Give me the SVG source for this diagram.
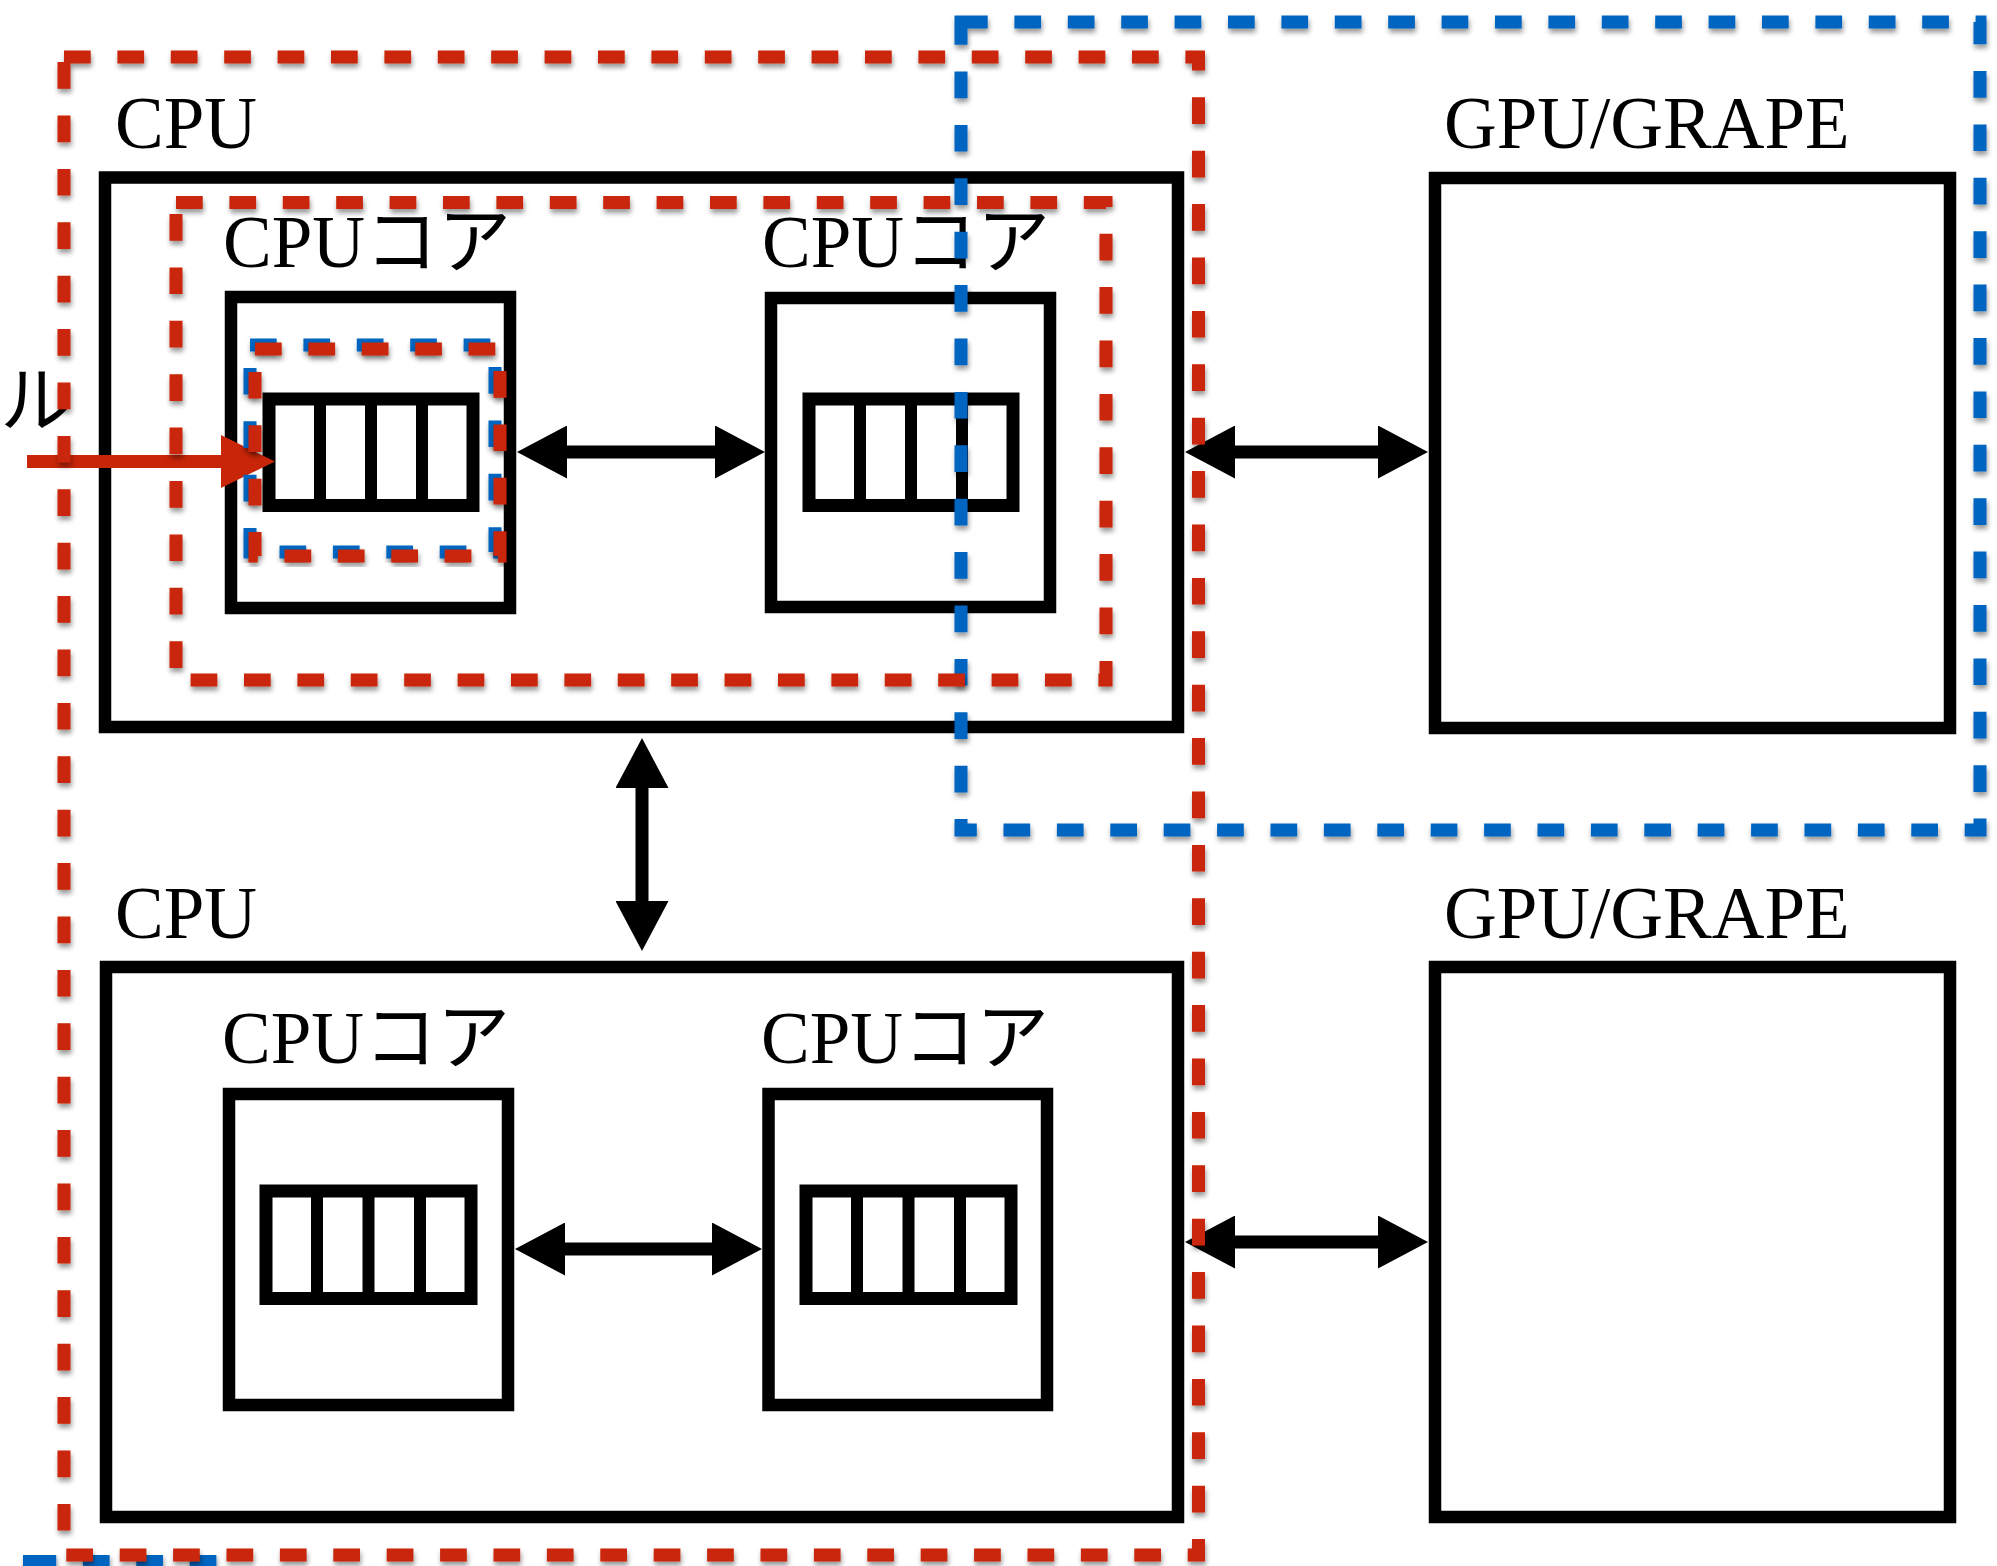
<svg xmlns="http://www.w3.org/2000/svg" width="1997" height="1566" viewBox="0 0 1997 1566">
<style>
  .box { fill: none; stroke: #000; stroke-width: 12.5; }
  .reg { fill: #fff; stroke: #000; stroke-width: 13; }
  .div { stroke: #000; stroke-width: 12; }
  .lbl { font-family: "Liberation Serif", "Noto Sans CJK JP", serif; font-size: 73px; fill: #000; }
  .red { fill: none; stroke: #C92508; stroke-width: 13; stroke-dasharray: 26.7 26.7; filter: url(#sh); }
  .blue { fill: none; stroke: #0565C0; stroke-width: 13; stroke-dasharray: 26.7 26.7; filter: url(#sh); }
  .conn { stroke: #000; stroke-width: 13; fill: none; marker-start: url(#ah); marker-end: url(#ah); }
</style>
<defs>
  <filter id="sh" x="-5%" y="-5%" width="110%" height="110%">
    <feDropShadow dx="1" dy="4" stdDeviation="2.5" flood-color="#000" flood-opacity="0.4"/>
  </filter>
  <marker id="ah" viewBox="0 0 50 53" markerWidth="50" markerHeight="53" refX="1" refY="26.5" markerUnits="userSpaceOnUse" orient="auto-start-reverse">
    <path d="M0,0 L50,26.5 L0,53 Z" fill="#000"/>
  </marker>
</defs>
<rect width="1997" height="1566" fill="#fff"/>

<!-- CPU 1 -->
<g id="cpu1">
  <text class="lbl" x="115" y="148">CPU</text>
  <rect class="box" x="105" y="177.5" width="1073" height="549.5"/>
</g>
<g id="core1">
  <text class="lbl" x="223" y="267">CPUコア</text>
  <rect class="box" x="231" y="297" width="279" height="311"/>
  <rect class="reg" x="269" y="399" width="204" height="106.5"/>
  <line class="div" x1="320" y1="399" x2="320" y2="505.5"/>
  <line class="div" x1="371" y1="399" x2="371" y2="505.5"/>
  <line class="div" x1="422" y1="399" x2="422" y2="505.5"/>
</g>
<g id="core2">
  <text class="lbl" x="762" y="267">CPUコア</text>
  <rect class="box" x="771" y="298" width="279" height="309"/>
  <rect class="reg" x="809" y="399" width="204" height="106.5"/>
  <line class="div" x1="860" y1="399" x2="860" y2="505.5"/>
  <line class="div" x1="911" y1="399" x2="911" y2="505.5"/>
  <line class="div" x1="962" y1="399" x2="962" y2="505.5"/>
</g>
<g id="gpu1">
  <text class="lbl" x="1444" y="148">GPU/GRAPE</text>
  <rect class="box" x="1435" y="178" width="515" height="550"/>
</g>

<!-- CPU 2 -->
<g id="cpu2">
  <text class="lbl" x="115" y="938">CPU</text>
  <rect class="box" x="106" y="967" width="1072" height="550"/>
</g>
<g id="core3">
  <text class="lbl" x="222" y="1063">CPUコア</text>
  <rect class="box" x="229" y="1094" width="279" height="311"/>
  <rect class="reg" x="266" y="1191" width="205" height="107.5"/>
  <line class="div" x1="317" y1="1191" x2="317" y2="1298.5"/>
  <line class="div" x1="368.5" y1="1191" x2="368.5" y2="1298.5"/>
  <line class="div" x1="420" y1="1191" x2="420" y2="1298.5"/>
</g>
<g id="core4">
  <text class="lbl" x="761" y="1063">CPUコア</text>
  <rect class="box" x="768.5" y="1094" width="278.5" height="311"/>
  <rect class="reg" x="806" y="1191" width="205" height="107.5"/>
  <line class="div" x1="857" y1="1191" x2="857" y2="1298.5"/>
  <line class="div" x1="908.5" y1="1191" x2="908.5" y2="1298.5"/>
  <line class="div" x1="960" y1="1191" x2="960" y2="1298.5"/>
</g>
<g id="gpu2">
  <text class="lbl" x="1444" y="938">GPU/GRAPE</text>
  <rect class="box" x="1435" y="967" width="515" height="550"/>
</g>

<!-- connectors -->
<g id="connectors">
  <line class="conn" x1="566" y1="452" x2="716" y2="452"/>
  <line class="conn" x1="1234" y1="452" x2="1379" y2="452"/>
  <line class="conn" x1="642" y1="787" x2="642" y2="902"/>
  <line class="conn" x1="564" y1="1249" x2="713" y2="1249"/>
  <line class="conn" x1="1234" y1="1242" x2="1379" y2="1242"/>
  <g id="red-arrow">
    <text class="lbl" x="0" y="426">ル</text>
    <line x1="27" y1="461.5" x2="223" y2="461.5" stroke="#C92508" stroke-width="13"/>
    <path d="M221,435 L275,461.5 L221,488 Z" fill="#C92508"/>
  </g>
</g>

<!-- dashed groupings -->
<g id="groupings">
  <rect id="gpu-group" class="blue" x="961" y="22" width="1019" height="808"/>
  <rect id="lower-blue" class="blue" x="29.5" y="1560" width="207" height="100"/>
  <rect id="cpu-group" class="red" x="64" y="57" width="1134.5" height="1498"/>
  <rect id="core-group" class="red" x="176" y="202.5" width="930" height="477.5"/>
  <rect id="reg-blue" class="blue" x="250" y="345" width="245" height="207"/>
  <rect id="reg-red" class="red" x="255" y="349" width="245" height="207"/>
</g>
</svg>
